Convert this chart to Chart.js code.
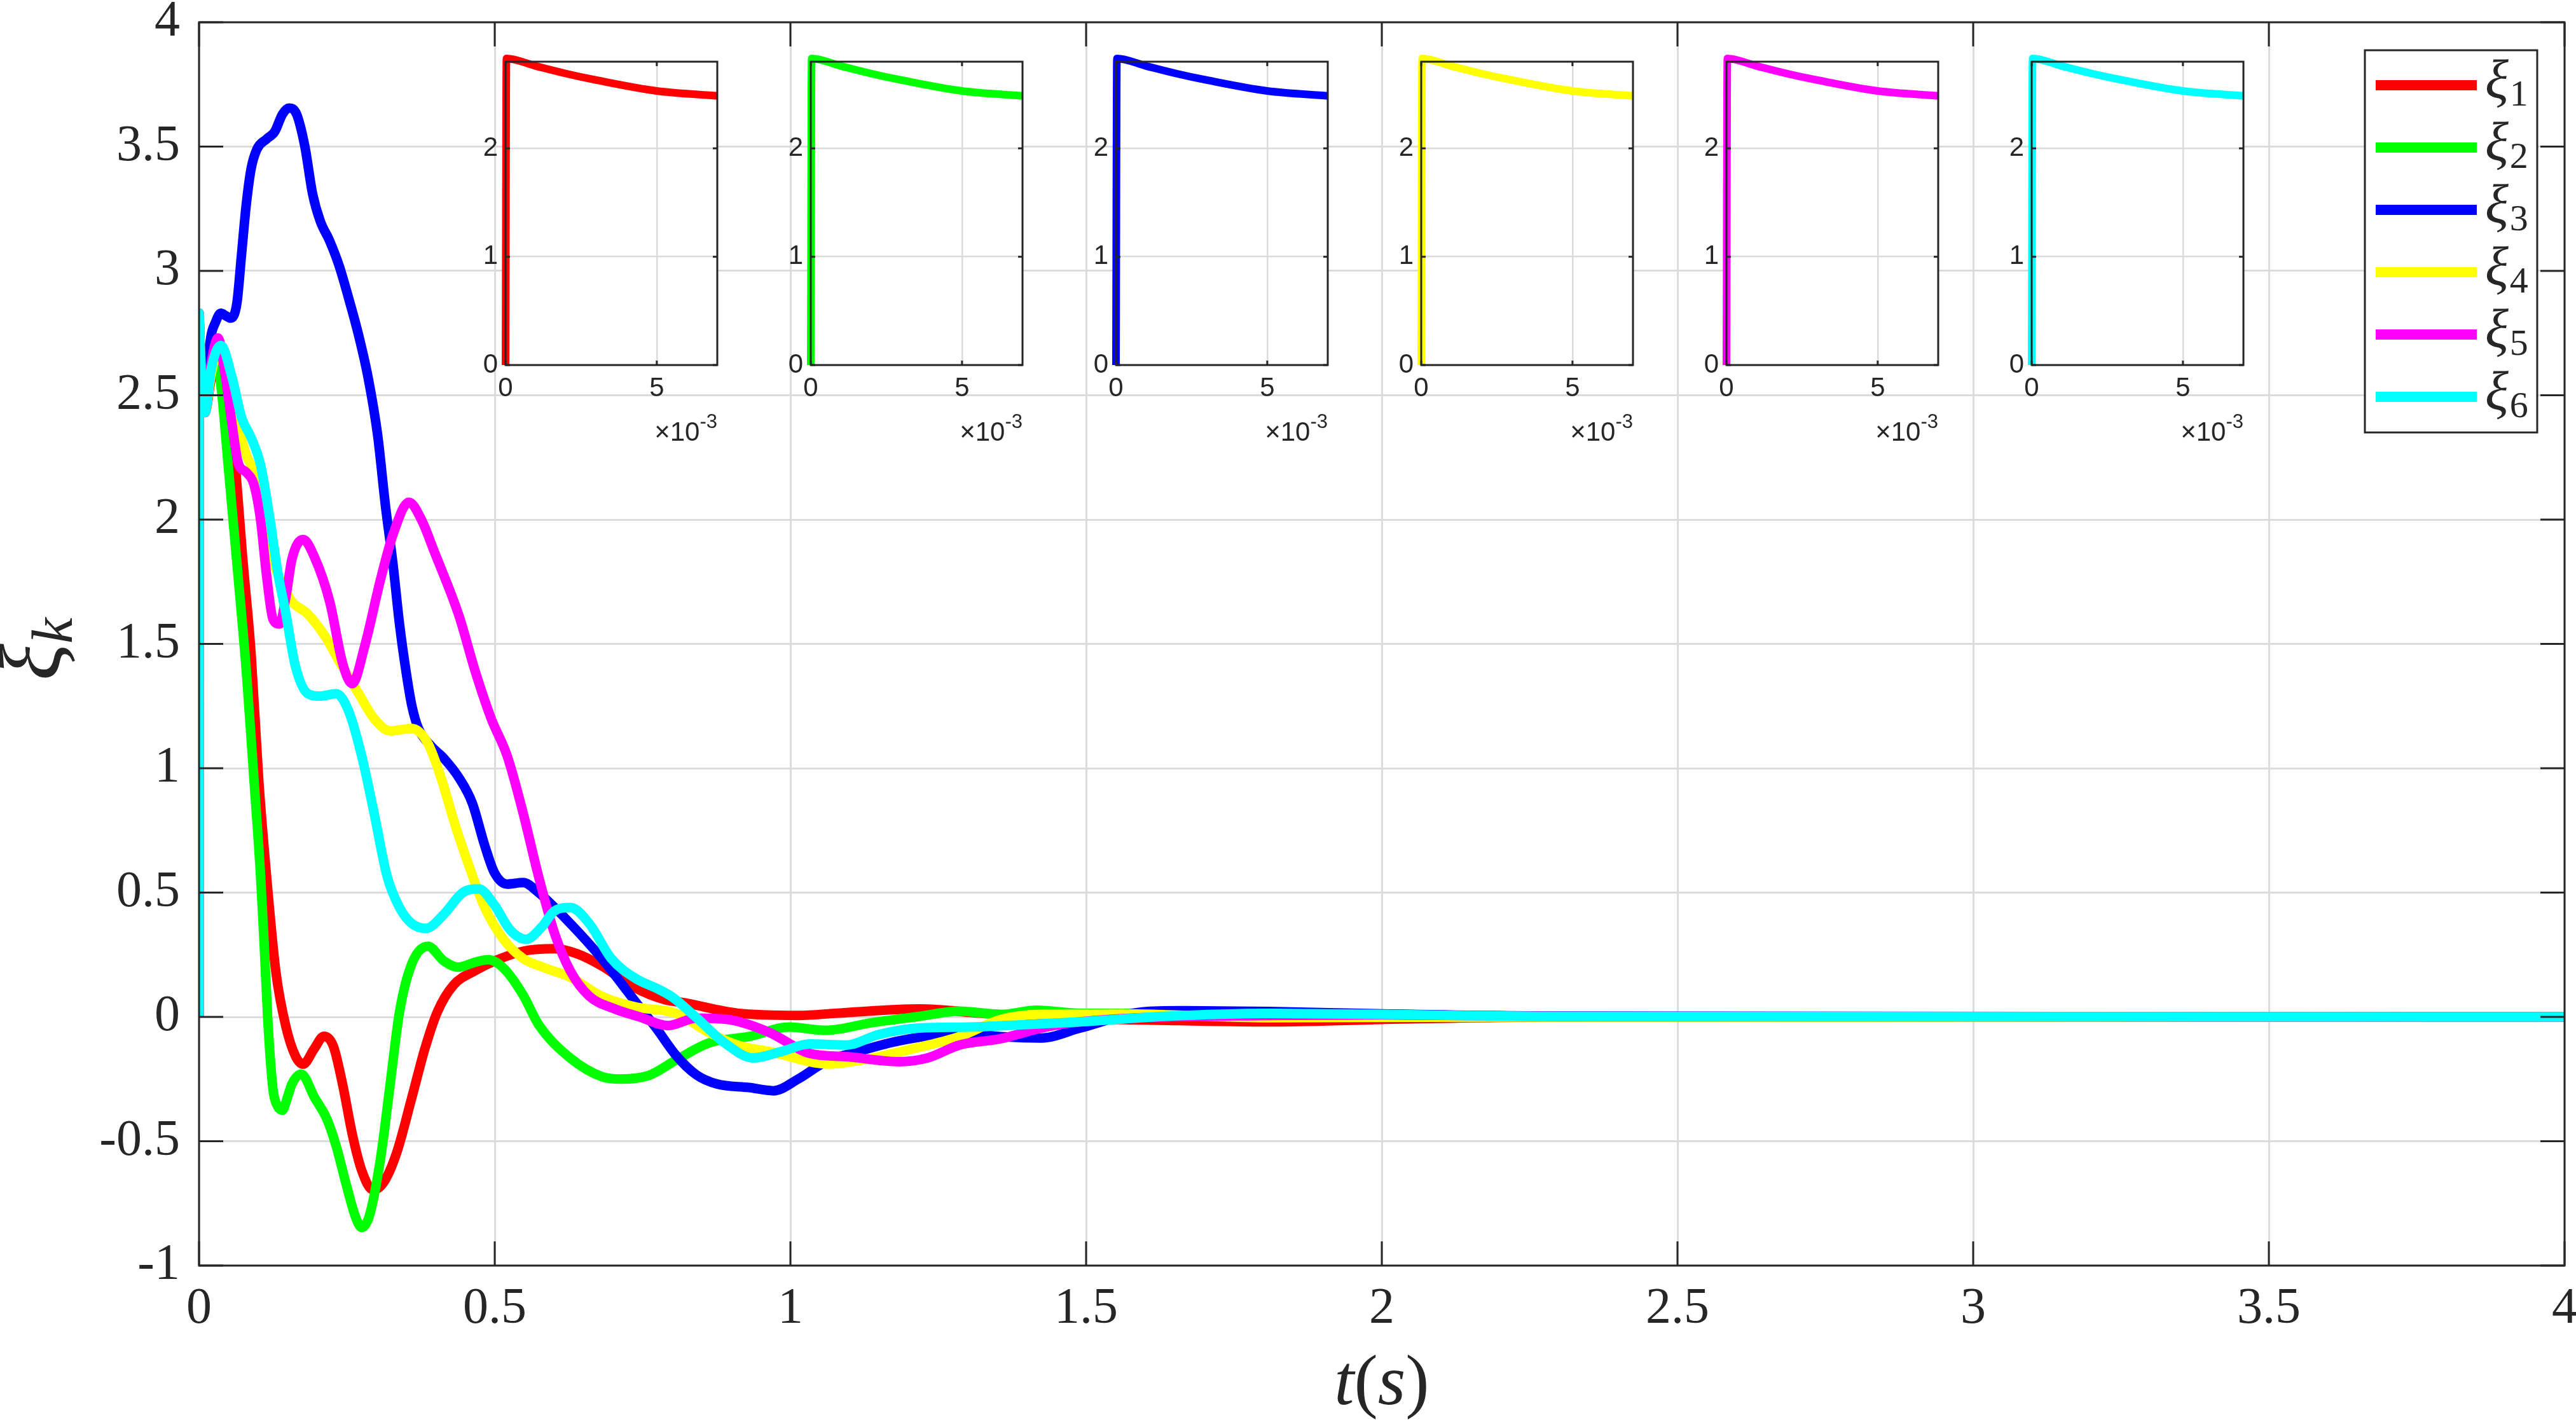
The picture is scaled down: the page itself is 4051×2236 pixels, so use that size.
<!DOCTYPE html>
<html>
<head>
<meta charset="utf-8">
<script src="https://cdn.jsdelivr.net/npm/chart.js@4.4.0/dist/chart.umd.min.js"></script>
<style>
  html, body { margin: 0; padding: 0; background: #fff; }
  #wrap { position: relative; width: 4051px; height: 2236px; overflow: hidden; }
  #wrap canvas { position: absolute; }
</style>
</head>
<body>
<div id="wrap">
  <canvas id="main" width="4051" height="2236" style="left:0;top:0"></canvas>
</div>
<script>
// ---- data ----
const seriesSubs = ['1', '2', '3', '4', '5', '6'];
const seriesColors = ['#ff0000', '#00ff00', '#0000ff', '#ffff00', '#ff00ff', '#00ffff'];

const xTicks = [0, 0.5, 1, 1.5, 2, 2.5, 3, 3.5, 4];
const yTicks = [-1, -0.5, 0, 0.5, 1, 1.5, 2, 2.5, 3, 3.5, 4];
const insetXTicks = [0, 0.005];
const insetYTicks = [0, 1, 2];

// first 7 ms, identical for all agents (this is what each inset zooms into)
const startPhase = [[0, 0], [0.00003, 2.83], [0.001, 2.76], [0.002, 2.69], [0.003, 2.63], [0.005, 2.53], [0.007, 2.485]];

const xi1 = [[0.01,2.43],[0.02,2.56],[0.032,2.68],[0.045,2.55],[0.06,2.25],[0.074,1.84],[0.088,1.46],[0.101,0.95],
  [0.114,0.57],[0.13,0.18],[0.147,-0.04],[0.163,-0.157],[0.176,-0.19],[0.195,-0.127],[0.211,-0.078],[0.227,-0.117],
  [0.243,-0.274],[0.259,-0.47],[0.275,-0.617],[0.294,-0.695],[0.312,-0.666],[0.334,-0.548],[0.36,-0.323],[0.382,-0.127],
  [0.403,0.02],[0.43,0.127],[0.467,0.186],[0.5,0.225],[0.548,0.264],[0.601,0.274],[0.639,0.254],[0.681,0.205],
  [0.735,0.12],[0.788,0.069],[0.82,0.057],[0.91,0.015],[1.013,0.006],[1.08,0.015],[1.218,0.032],[1.321,0.015],
  [1.424,-0.003],[1.6,-0.012],[1.81,-0.02],[2.0,-0.01],[2.3,0],[4,0]];

const xi2 = [[0.01,2.43],[0.02,2.58],[0.028,2.66],[0.037,2.54],[0.05,2.2],[0.065,1.8],[0.08,1.39],[0.093,0.95],
  [0.104,0.57],[0.11,0.3],[0.116,0.0],[0.125,-0.29],[0.133,-0.36],[0.141,-0.375],[0.15,-0.32],[0.157,-0.27],
  [0.173,-0.23],[0.195,-0.323],[0.216,-0.41],[0.232,-0.52],[0.248,-0.666],[0.264,-0.8],[0.275,-0.847],[0.288,-0.8],
  [0.307,-0.568],[0.323,-0.274],[0.339,0.02],[0.36,0.215],[0.387,0.284],[0.414,0.225],[0.438,0.2],[0.467,0.22],
  [0.489,0.23],[0.515,0.196],[0.548,0.088],[0.574,-0.03],[0.628,-0.166],[0.681,-0.24],[0.713,-0.25],[0.761,-0.235],
  [0.807,-0.173],[0.862,-0.105],[0.93,-0.079],[0.998,-0.041],[1.06,-0.054],[1.136,-0.024],[1.218,0.002],[1.286,0.023],
  [1.355,0.01],[1.417,0.027],[1.49,0.014],[1.63,0.014],[1.81,0.01],[2.0,0.005],[2.3,0],[4,0]];

const xi3 = [[0.01,2.44],[0.018,2.7],[0.029,2.8],[0.037,2.83],[0.045,2.82],[0.053,2.81],[0.064,2.87],[0.072,3.07],
  [0.08,3.27],[0.088,3.41],[0.098,3.49],[0.114,3.53],[0.128,3.56],[0.141,3.63],[0.152,3.655],[0.165,3.63],
  [0.179,3.5],[0.192,3.31],[0.205,3.2],[0.221,3.12],[0.237,3.02],[0.253,2.89],[0.27,2.74],[0.286,2.57],
  [0.302,2.34],[0.315,2.06],[0.328,1.82],[0.339,1.58],[0.35,1.39],[0.36,1.25],[0.371,1.16],[0.392,1.09],
  [0.414,1.04],[0.44,0.96],[0.462,0.86],[0.483,0.69],[0.4995,0.58],[0.521,0.534],[0.548,0.54],[0.574,0.5],
  [0.628,0.375],[0.681,0.235],[0.735,0.07],[0.773,-0.045],[0.807,-0.156],[0.841,-0.233],[0.876,-0.27],[0.93,-0.284],
  [0.971,-0.297],[1.013,-0.25],[1.06,-0.18],[1.115,-0.139],[1.184,-0.096],[1.29,-0.066],[1.36,-0.08],[1.424,-0.085],
  [1.49,-0.045],[1.595,0.02],[1.663,0.025],[1.81,0.022],[2.0,0.012],[2.3,0.003],[4,0]];

const xi4 = [[0.01,2.43],[0.02,2.58],[0.036,2.7],[0.045,2.62],[0.066,2.38],[0.08,2.26],[0.093,2.19],[0.109,2.03],
  [0.12,1.87],[0.13,1.8],[0.147,1.71],[0.157,1.67],[0.184,1.62],[0.216,1.52],[0.237,1.43],[0.27,1.3],
  [0.296,1.2],[0.323,1.15],[0.36,1.16],[0.387,1.1],[0.408,0.97],[0.435,0.757],[0.457,0.604],[0.483,0.44],
  [0.515,0.312],[0.548,0.235],[0.585,0.197],[0.628,0.159],[0.681,0.083],[0.738,0.04],[0.807,0.014],[0.86,-0.06],
  [0.91,-0.113],[0.964,-0.139],[1.067,-0.19],[1.122,-0.173],[1.218,-0.122],[1.286,-0.079],[1.355,-0.011],[1.424,0.01],
  [1.56,0.012],[1.81,-0.003],[2.3,0],[4,0]];

const xi5 = [[0.01,2.43],[0.02,2.62],[0.032,2.73],[0.045,2.57],[0.056,2.38],[0.066,2.23],[0.08,2.19],[0.093,2.14],
  [0.104,2.0],[0.114,1.78],[0.125,1.6],[0.136,1.58],[0.147,1.69],[0.157,1.84],[0.176,1.92],[0.195,1.85],
  [0.221,1.67],[0.243,1.42],[0.259,1.34],[0.28,1.49],[0.307,1.76],[0.328,1.94],[0.355,2.07],[0.376,2.0],
  [0.398,1.87],[0.44,1.61],[0.467,1.39],[0.494,1.2],[0.521,1.05],[0.548,0.82],[0.574,0.566],[0.601,0.337],
  [0.628,0.184],[0.66,0.083],[0.703,0.032],[0.745,0.0],[0.793,-0.035],[0.841,-0.005],[0.896,-0.011],[0.964,-0.062],
  [1.033,-0.147],[1.095,-0.16],[1.184,-0.18],[1.232,-0.165],[1.286,-0.113],[1.355,-0.088],[1.424,-0.045],[1.49,-0.02],
  [1.81,0.006],[2.0,0.008],[2.3,0.002],[4,0]];

const xi6 = [[0.01,2.43],[0.02,2.6],[0.037,2.7],[0.056,2.57],[0.072,2.41],[0.088,2.33],[0.104,2.22],[0.12,2.0],
  [0.133,1.79],[0.147,1.62],[0.163,1.41],[0.184,1.3],[0.205,1.29],[0.232,1.3],[0.253,1.23],[0.275,1.05],
  [0.296,0.82],[0.318,0.566],[0.339,0.44],[0.36,0.375],[0.384,0.356],[0.414,0.413],[0.446,0.5],[0.473,0.515],
  [0.4995,0.45],[0.526,0.35],[0.553,0.312],[0.58,0.363],[0.601,0.426],[0.628,0.44],[0.66,0.375],[0.697,0.235],
  [0.738,0.155],[0.778,0.11],[0.8,0.08],[0.841,-0.003],[0.889,-0.105],[0.937,-0.165],[0.985,-0.139],[1.033,-0.109],
  [1.095,-0.113],[1.149,-0.071],[1.218,-0.045],[1.3,-0.041],[1.39,-0.032],[1.49,-0.02],[1.63,0.002],[1.81,0.014],
  [2.0,0.01],[2.3,0.002],[4,0]];

const allSeries = [xi1, xi2, xi3, xi4, xi5, xi6];

// ---- drawing ----
const INK = '#262626';
const GRID = '#dcdcdc';
const SERIF = '"Liberation Serif", "Times New Roman", "DejaVu Serif", serif';
const SANS = '"Liberation Sans", Arial, sans-serif';

function toPoints(pairs) {
  return pairs.map(p => ({ x: p[0], y: p[1] }));
}

// chart.js pads the area so edge labels fit; the figure does not
function noEdgePad(s) {
  s.paddingLeft = 0; s.paddingRight = 0; s.paddingTop = 0; s.paddingBottom = 0;
}

// draws box, inward ticks, axis titles and the legend of the big axes
const mainFrame = {
  id: 'mainFrame',
  afterDraw(chart) {
    const ctx = chart.ctx, a = chart.chartArea;
    const sx = chart.scales.x, sy = chart.scales.y;
    ctx.save();
    ctx.strokeStyle = INK;
    ctx.lineWidth = 3;
    ctx.beginPath();
    xTicks.forEach(v => {
      const p = sx.getPixelForValue(v);
      ctx.moveTo(p, a.bottom); ctx.lineTo(p, a.bottom - 38);
      ctx.moveTo(p, a.top); ctx.lineTo(p, a.top + 38);
    });
    yTicks.forEach(v => {
      const p = sy.getPixelForValue(v);
      ctx.moveTo(a.left, p); ctx.lineTo(a.left + 38, p);
      ctx.moveTo(a.right, p); ctx.lineTo(a.right - 38, p);
    });
    ctx.stroke();
    ctx.strokeRect(a.left, a.top, a.right - a.left, a.bottom - a.top);

    ctx.fillStyle = INK;
    ctx.textBaseline = 'alphabetic';
    ctx.textAlign = 'left';

    // x title  t(s)
    const parts = [['t', 'italic 112px ' + SERIF], ['(', '112px ' + SERIF], ['s', 'italic 112px ' + SERIF], [')', '112px ' + SERIF]];
    let w = 0;
    parts.forEach(p => { ctx.font = p[1]; w += ctx.measureText(p[0]).width; });
    let cx = (a.left + a.right) / 2 - w / 2;
    parts.forEach(p => { ctx.font = p[1]; ctx.fillText(p[0], cx, 2208); cx += ctx.measureText(p[0]).width; });

    // y title  xi_k, rotated
    ctx.save();
    ctx.translate(94, 1070);
    ctx.rotate(-Math.PI / 2);
    ctx.font = 'italic 135px ' + SERIF;
    const wx = ctx.measureText('ξ').width;
    ctx.fillText('ξ', 0, 0);
    ctx.font = 'italic 92px ' + SERIF;
    ctx.fillText('k', wx, 19);
    ctx.restore();

    // legend
    const L = { left: 3719, top: 79, right: 3990, bottom: 680 };
    ctx.fillStyle = '#fff';
    ctx.fillRect(L.left, L.top, L.right - L.left, L.bottom - L.top);
    ctx.strokeStyle = INK;
    ctx.lineWidth = 3;
    ctx.strokeRect(L.left, L.top, L.right - L.left, L.bottom - L.top);
    seriesSubs.forEach((s, i) => {
      const row = 134 + 98 * i;
      ctx.strokeStyle = seriesColors[i];
      ctx.lineWidth = 16;
      ctx.beginPath(); ctx.moveTo(3736, row); ctx.lineTo(3895, row); ctx.stroke();
      ctx.fillStyle = INK;
      ctx.font = 'italic 86px ' + SERIF;
      ctx.fillText('ξ', 3908, row + 20);
      const wxi = ctx.measureText('ξ').width;
      ctx.font = '58px ' + SERIF;
      ctx.fillText(s, 3908 + wxi + 2, row + 32);
    });
    ctx.restore();
  }
};

const datasets = allSeries.map((s, i) => ({
  label: 'ξ' + seriesSubs[i],
  data: toPoints(startPhase.concat(s)),
  borderColor: seriesColors[i],
  backgroundColor: seriesColors[i],
  borderWidth: 15,
  pointRadius: 0,
  fill: false,
  cubicInterpolationMode: 'monotone',
  borderJoinStyle: 'round',
  order: 5 - i
}));

new Chart(document.getElementById('main'), {
  type: 'line',
  data: { datasets: datasets },
  options: {
    responsive: false,
    animation: false,
    devicePixelRatio: 1,
    layout: { padding: { left: 0, top: 35, right: 18, bottom: 0 } },
    plugins: { legend: { display: false }, tooltip: { enabled: false } },
    scales: {
      x: {
        type: 'linear', min: 0, max: 4,
        afterBuildTicks: s => { s.ticks = xTicks.map(v => ({ value: v })); },
        afterFit: s => { s.height = 246; noEdgePad(s); },
        grid: { color: GRID, lineWidth: 3, drawTicks: false },
        border: { display: false },
        ticks: { color: INK, padding: 21, font: { family: SERIF, size: 80 }, callback: v => String(v), maxRotation: 0, autoSkip: false }
      },
      y: {
        type: 'linear', min: -1, max: 4,
        afterBuildTicks: s => { s.ticks = yTicks.map(v => ({ value: v })); },
        afterFit: s => { s.width = 313; noEdgePad(s); },
        grid: { color: GRID, lineWidth: 3, drawTicks: false },
        border: { display: false },
        ticks: { color: INK, padding: 30, font: { family: SERIF, size: 80 }, callback: v => String(v), autoSkip: false }
      }
    }
  },
  plugins: [mainFrame]
});

// ---- six insets: first 7 ms of each agent ----
const insetFrame = {
  id: 'insetFrame',
  beforeDraw(chart) {
    const a = chart.chartArea;
    chart.ctx.save();
    chart.ctx.fillStyle = '#fff';
    chart.ctx.fillRect(a.left, a.top, a.right - a.left, a.bottom - a.top);
    chart.ctx.restore();
  },
  afterDraw(chart) {
    const ctx = chart.ctx, a = chart.chartArea;
    const sx = chart.scales.x, sy = chart.scales.y;
    ctx.save();
    ctx.strokeStyle = INK;
    ctx.lineWidth = 3;
    ctx.beginPath();
    insetXTicks.forEach(v => {
      const p = sx.getPixelForValue(v);
      ctx.moveTo(p, a.bottom); ctx.lineTo(p, a.bottom - 7);
      ctx.moveTo(p, a.top); ctx.lineTo(p, a.top + 7);
    });
    insetYTicks.forEach(v => {
      const p = sy.getPixelForValue(v);
      ctx.moveTo(a.left, p); ctx.lineTo(a.left + 7, p);
      ctx.moveTo(a.right, p); ctx.lineTo(a.right - 7, p);
    });
    ctx.stroke();
    ctx.strokeRect(a.left, a.top, a.right - a.left, a.bottom - a.top);
    // exponent label  x10^-3
    ctx.fillStyle = INK;
    ctx.textAlign = 'right';
    ctx.textBaseline = 'alphabetic';
    ctx.font = '31px ' + SANS;
    const we = ctx.measureText('-3').width;
    ctx.fillText('-3', a.right, 613);
    ctx.font = '42px ' + SANS;
    ctx.fillText('×10', a.right - we, 633);
    ctx.restore();
  }
};

const insetLefts = [795, 1275, 1755, 2235, 2715, 3195];
const wrap = document.getElementById('wrap');

insetLefts.forEach((left, i) => {
  const cv = document.createElement('canvas');
  cv.width = 401;
  cv.height = 660;
  cv.style.left = (left - 60) + 'px';
  cv.style.top = '60px';
  wrap.appendChild(cv);
  new Chart(cv, {
    type: 'line',
    data: {
      datasets: [{
        data: toPoints(startPhase),
        borderColor: seriesColors[i],
        borderWidth: 12,
        pointRadius: 0,
        fill: false,
        cubicInterpolationMode: 'monotone',
        borderJoinStyle: 'round',
        clip: 14
      }]
    },
    options: {
      responsive: false,
      animation: false,
      devicePixelRatio: 1,
      layout: { padding: { left: 0, top: 37, right: 8, bottom: 0 } },
      plugins: { legend: { display: false }, tooltip: { enabled: false } },
      scales: {
        x: {
          type: 'linear', min: 0, max: 0.007,
          afterBuildTicks: s => { s.ticks = insetXTicks.map(v => ({ value: v })); },
          afterFit: s => { s.height = 146; noEdgePad(s); },
          grid: { color: GRID, lineWidth: 2.5, drawTicks: false },
          border: { display: false },
          ticks: { color: INK, padding: 12, font: { family: SANS, size: 42 }, callback: v => String(Math.round(v * 1000)), maxRotation: 0, autoSkip: false }
        },
        y: {
          type: 'linear', min: 0, max: 2.8,
          afterBuildTicks: s => { s.ticks = insetYTicks.map(v => ({ value: v })); },
          afterFit: s => { s.width = 60; noEdgePad(s); },
          grid: { color: GRID, lineWidth: 2.5, drawTicks: false },
          border: { display: false },
          ticks: { color: INK, padding: 12, font: { family: SANS, size: 42 }, callback: v => String(v), autoSkip: false }
        }
      }
    },
    plugins: [insetFrame]
  });
});
</script>
</body>
</html>
